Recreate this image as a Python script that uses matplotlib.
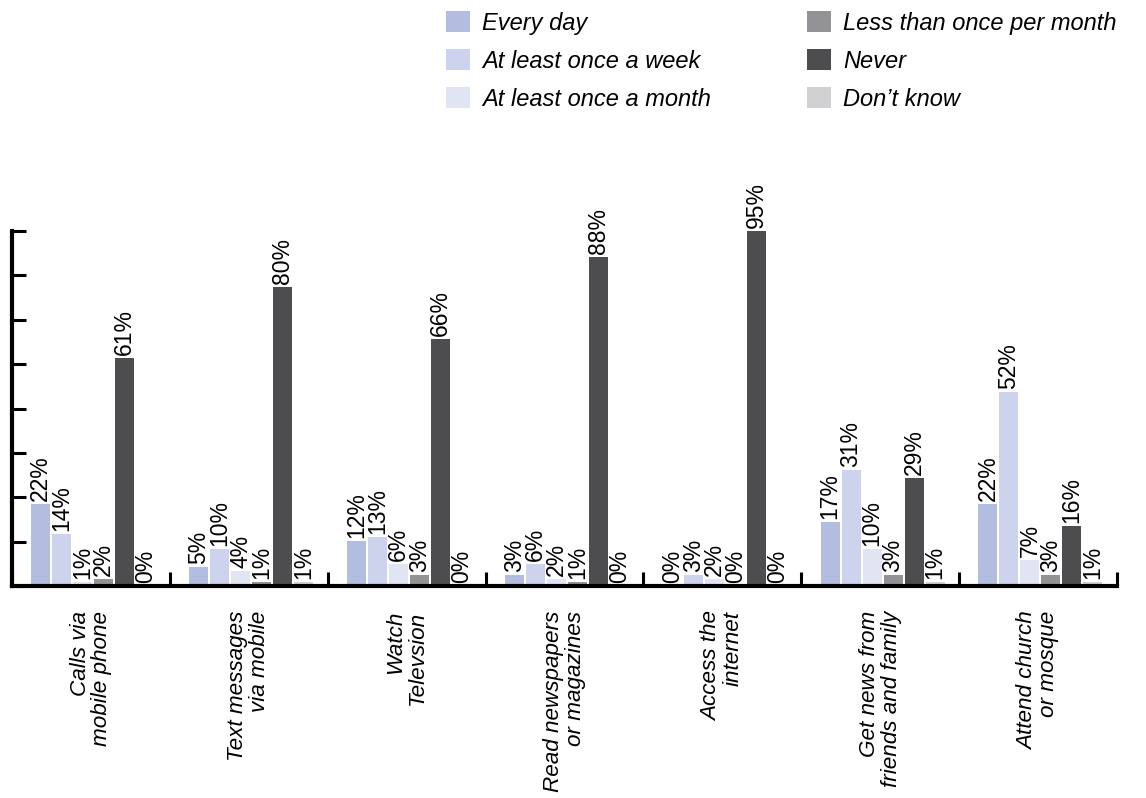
import matplotlib
matplotlib.use("Agg")
import matplotlib.pyplot as plt
import numpy as np

plt.rcParams['font.family'] = ['Liberation Sans', 'DejaVu Sans']

categories = ["Calls via\nmobile phone", "Text messages\nvia mobile", "Watch\nTelevsion",
              "Read newspapers\nor magazines", "Access the\ninternet",
              "Get news from\nfriends and family", "Attend church\nor mosque"]
series_names = ["Every day", "At least once a week", "At least once a month",
                "Less than once per month", "Never", "Don\u2019t know"]
every_day = [22, 5, 12, 3, 0, 17, 22]
once_week = [14, 10, 13, 6, 3, 31, 52]
once_month = [1, 4, 6, 2, 2, 10, 7]
less_month = [2, 1, 3, 1, 0, 3, 3]
never = [61, 80, 66, 88, 95, 29, 16]
dont_know = [0, 1, 0, 0, 0, 1, 1]
series = [every_day, once_week, once_month, less_month, never, dont_know]
colors = ["#b2bde0", "#cdd3ec", "#e1e5f3", "#939396", "#4d4d4f", "#d1d1d3"]

fig = plt.figure(figsize=(11.46, 7.98), dpi=100)
ax = fig.add_axes([12/1146, 1-586/798, (1117-12)/1146, (586-231)/798])

x = np.arange(len(categories))
step = 0.133
width = 0.12
n = len(series)
for i, (vals, col, name) in enumerate(zip(series, colors, series_names)):
    pos = x + (i - (n-1)/2) * step + 0.015
    ax.bar(pos, vals, width=width, color=col, label=name, linewidth=0)
    for xp, v in zip(pos, vals):
        ax.text(xp, v + 0.8, f"{v}%", rotation=90, ha='center', va='bottom',
                fontsize=16.5, color='black')

ax.set_xlim(-0.5, len(categories) - 0.5)
ax.set_ylim(0, 95)
ax.set_yticks(np.linspace(0, 95, 9))
ax.set_yticklabels([])
ax.tick_params(axis='y', direction='in', length=10, width=2.2)
ax.set_xticks(np.arange(-0.5, len(categories), 1.0))
ax.set_xticklabels([])
ax.tick_params(axis='x', direction='in', length=10, width=2.2)
for s in ['top', 'right']:
    ax.spines[s].set_visible(False)
for s in ['left', 'bottom']:
    ax.spines[s].set_linewidth(3)

for xi, lab in zip(x, categories):
    ax.annotate(lab, xy=(xi, 0), xycoords='data', xytext=(0, -18), textcoords='offset points',
                rotation=90, ha='center', va='top', multialignment='right',
                fontsize=16.2, style='italic', linespacing=1.05)

handles, labels = ax.get_legend_handles_labels()
fig.legend(handles, labels, loc='upper left', bbox_to_anchor=(446/1146, 1-11/798),
           ncol=2, frameon=False, prop={'size': 17, 'style': 'italic'},
           handlelength=1.02, handleheight=1.02, handletextpad=0.5,
           columnspacing=4.08, labelspacing=0.6, borderpad=0, borderaxespad=0)

fig.savefig("out.png", dpi=100)
